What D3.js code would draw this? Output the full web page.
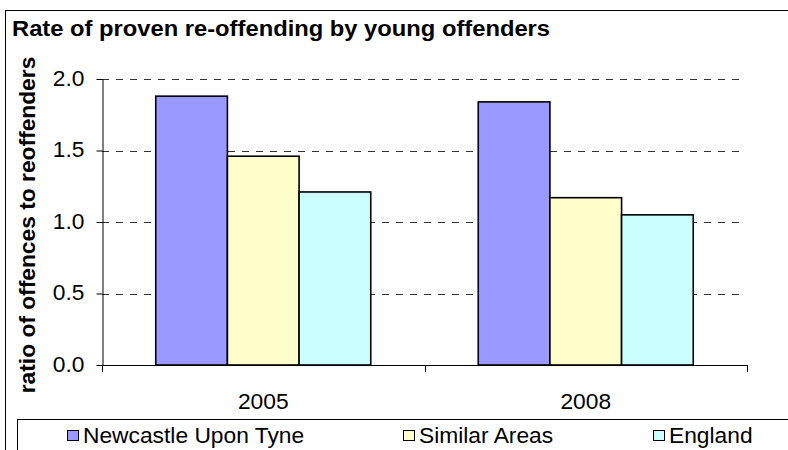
<!DOCTYPE html>
<html>
<head>
<meta charset="utf-8">
<script src="https://cdn.jsdelivr.net/npm/d3@7/dist/d3.min.js"></script>
<style>
  html, body { margin: 0; padding: 0; background: #fff; }
  svg { display: block; }
  text { font-family: Arial, "Liberation Sans", sans-serif; fill: #000; }
</style>
</head>
<body>
<svg id="chart" width="788" height="450"></svg>
<script>
// Chart data
const categories = ["2005", "2008"];
const seriesNames = ["Newcastle Upon Tyne", "Similar Areas", "England"];
const newcastle = [1.88, 1.84];
const similarAreas = [1.46, 1.17];
const england = [1.21, 1.05];
const yTicks = [0.0, 0.5, 1.0, 1.5, 2.0];
const seriesColors = ["#9999FF", "#FFFFCC", "#CCFFFF"];
const title = "Rate of proven re-offending by young offenders";
const yTitle = "ratio of offences to reoffenders";

const values = [newcastle, similarAreas, england];
const STRETCH = 1.06;   // slight horizontal text widening used throughout the chart
const FS = 21.5;

const svg = d3.select("#chart");
const plot = { left: 102, right: 747, top: 79, bottom: 365 };

const x0 = d3.scaleBand().domain(categories).range([plot.left, plot.right]).paddingInner(0).paddingOuter(0);
const barPad = x0.bandwidth() / 6;
const x1 = d3.scaleBand().domain(seriesNames)
  .range([barPad, x0.bandwidth() - barPad]).padding(0);
const y = d3.scaleLinear().domain([0, 2]).range([plot.bottom, plot.top]);

// helper: text with a horizontal stretch
function label(parent, x, yy, str, opts = {}) {
  const rot = opts.rotate ? ` rotate(${opts.rotate})` : "";
  return parent.append("text")
    .attr("transform", `translate(${x},${yy})${rot} scale(${opts.stretch || STRETCH},1)`)
    .attr("text-anchor", opts.anchor || "start")
    .attr("font-size", (opts.size || FS) + "px")
    .attr("font-weight", opts.bold ? "bold" : "normal")
    .text(str);
}

// outer chart frame
svg.append("rect")
  .attr("x", 5.5).attr("y", 10.5).attr("width", 800).attr("height", 460)
  .attr("fill", "#fff").attr("stroke", "#000").attr("stroke-width", 1);

// title
label(svg, 12, 36, title, { bold: true, size: 22, stretch: 1.08 });

// dashed gridlines
svg.append("g").selectAll("line")
  .data(yTicks.filter(d => d > 0))
  .join("line")
  .attr("x1", plot.left).attr("x2", 740)
  .attr("y1", d => Math.round(y(d)) + 0.5).attr("y2", d => Math.round(y(d)) + 0.5)
  .attr("stroke", "#333").attr("stroke-width", 1)
  .attr("stroke-dasharray", "7,7");

// bars
const groups = svg.append("g").selectAll("g")
  .data(categories)
  .join("g")
  .attr("transform", d => `translate(${x0(d)},0)`);

groups.selectAll("rect")
  .data((c, i) => seriesNames.map((s, j) => ({ s, j, v: values[j][i] })))
  .join("rect")
  .attr("x", d => x1(d.s))
  .attr("y", d => y(d.v))
  .attr("width", x1.bandwidth())
  .attr("height", d => y(0) - y(d.v))
  .attr("fill", d => seriesColors[d.j])
  .attr("stroke", "#000").attr("stroke-width", 1.6);

// y axis
const yAxis = svg.append("g")
  .attr("transform", `translate(${plot.left + 0.5},0)`)
  .call(d3.axisLeft(y).tickValues(yTicks).tickFormat(d3.format(".1f")).tickSize(6).tickSizeOuter(0));
yAxis.select(".domain").attr("stroke", "#000");
yAxis.selectAll(".tick line").attr("stroke", "#000");
yAxis.selectAll(".tick text")
  .attr("x", null).attr("dy", null)
  .attr("transform", "translate(-18,6) scale(" + STRETCH + ",1)")
  .attr("font-size", FS + "px")
  .attr("font-family", "Arial, 'Liberation Sans', sans-serif")
  .attr("fill", "#000");

// x axis (category boundaries carry the ticks)
const xg = svg.append("g");
xg.append("line")
  .attr("x1", plot.left).attr("x2", plot.right)
  .attr("y1", plot.bottom + 0.5).attr("y2", plot.bottom + 0.5)
  .attr("stroke", "#000");
const bounds = categories.map(c => x0(c)).concat([x0(categories[categories.length - 1]) + x0.bandwidth()]);
xg.selectAll("line.tk")
  .data(bounds)
  .join("line").attr("class", "tk")
  .attr("x1", d => Math.round(d) + 0.5).attr("x2", d => Math.round(d) + 0.5)
  .attr("y1", plot.bottom).attr("y2", plot.bottom + 7)
  .attr("stroke", "#000");
categories.forEach(c => {
  label(xg, x0(c) + x0.bandwidth() / 2, 409, c, { anchor: "middle" });
});

// y axis title
label(svg, 35, (plot.top + plot.bottom) / 2 + 3, yTitle, { rotate: -90, anchor: "middle", bold: true, size: 21.5 });

// legend
const lg = svg.append("g");
lg.append("rect")
  .attr("x", 17.5).attr("y", 419.5).attr("width", 800).attr("height", 60)
  .attr("fill", "#fff").attr("stroke", "#000");
const legendX = [67, 403, 653];
seriesNames.forEach((s, i) => {
  lg.append("rect")
    .attr("x", legendX[i] + 0.5).attr("y", 430.5)
    .attr("width", 11).attr("height", 10)
    .attr("fill", seriesColors[i]).attr("stroke", "#000").attr("stroke-width", 1);
  label(lg, legendX[i] + 16, 443, s);
});
</script>
</body>
</html>
